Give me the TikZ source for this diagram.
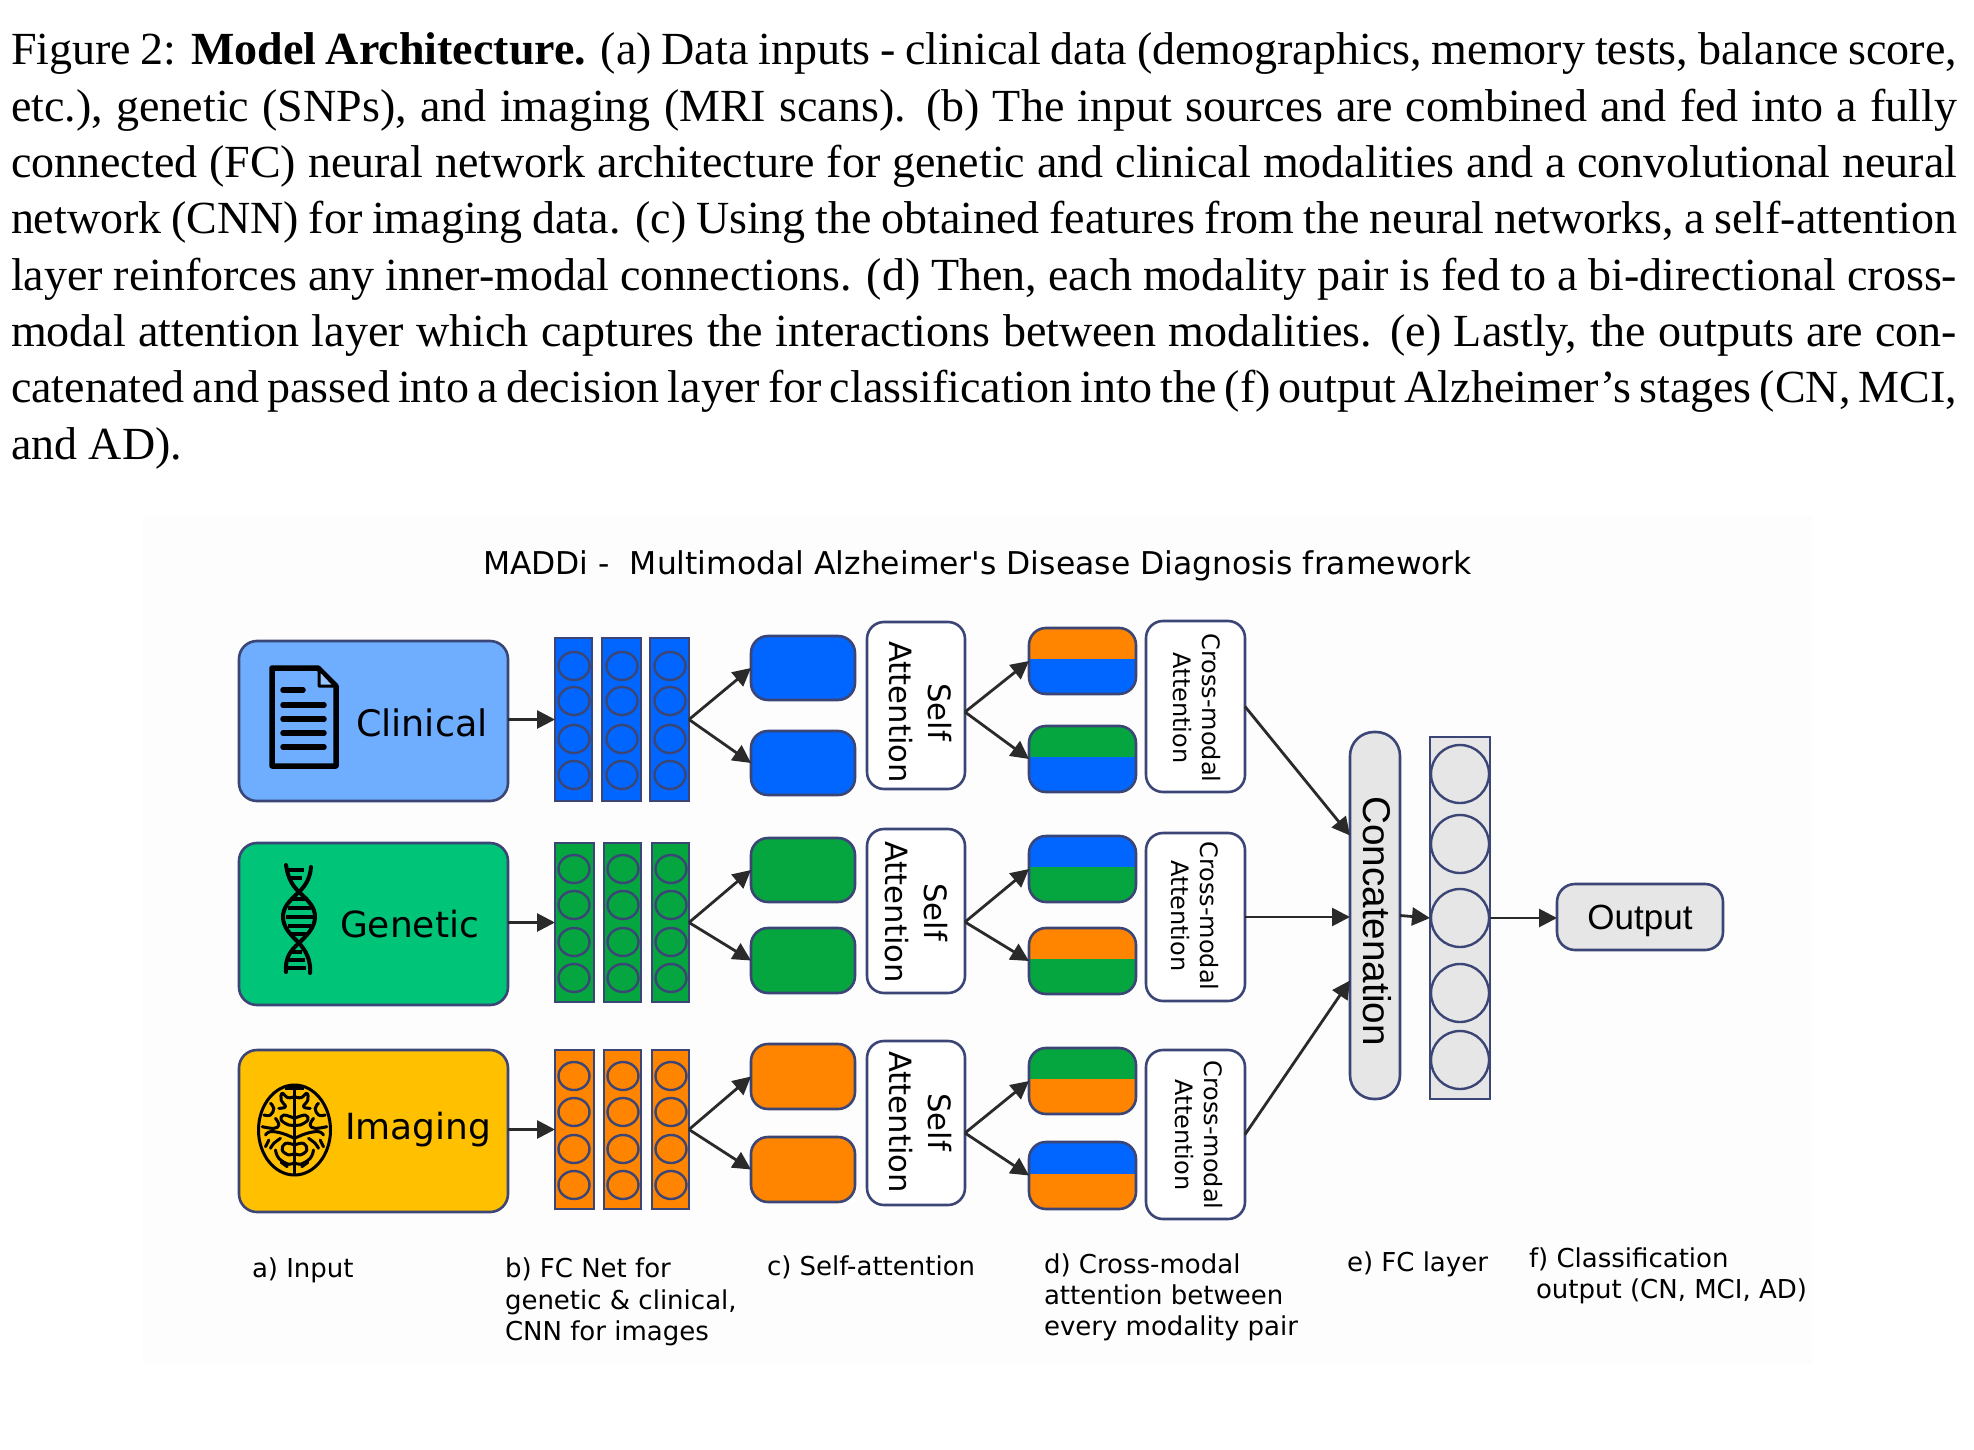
\documentclass[tikz,border=0pt]{standalone}
\usepackage{fontspec}
\setmainfont{Liberation Serif}
\newfontfamily\dvfont{DejaVu Sans}
\newfontfamily\arfont{Liberation Sans}
\usetikzlibrary{arrows.meta}
\definecolor{boxline}{HTML}{3B4676}
\definecolor{conncol}{HTML}{2A2A2A}
\definecolor{clinfill}{HTML}{6FAEFF}
\definecolor{genfill}{HTML}{00C478}
\definecolor{imgfill}{HTML}{FFC000}
\definecolor{bluefill}{HTML}{0066FF}
\definecolor{greenfill}{HTML}{05A63F}
\definecolor{orangefill}{HTML}{FF8400}
\definecolor{greyfill}{HTML}{E6E6E6}
\definecolor{panel}{HTML}{FDFDFD}
\tikzset{
  box/.style={draw=boxline,line width=2.6pt,inner sep=0pt,outer sep=0pt},
  inputbox/.style={box,rounded corners=18pt},
  stackbar/.style={box,line width=2pt},
  feat/.style={box,rounded corners=17pt},
  whitebox/.style={box,rounded corners=17pt,fill=white},
  greybox/.style={box,fill=greyfill},
  splitbox/.style n args={2}{box,rounded corners=17pt,fill=#2,path picture={
     \fill[#1,sharp corners] (path picture bounding box.north west) rectangle ([yshift=2pt]path picture bounding box.east);}},
  conn/.style={draw=conncol,line width=2.8pt,-{Triangle[length=18pt,width=18pt,fill=conncol]}},
  neuron/.style={draw=boxline,line width=2.4pt},
  tx/.style={inner sep=0pt,outer sep=0pt,anchor=base west,text=black},
  label/.style={tx,align=left,font=\dvfont\fontsize{26}{31}\selectfont},
  rotself/.style={inner sep=0pt,rotate=-90,align=center,font=\dvfont\fontsize{30.7}{39}\selectfont},
  rotcross/.style={inner sep=0pt,rotate=-90,align=center,font=\dvfont\fontsize{24}{29}\selectfont},
  icon/.style={line width=3pt,line cap=round,line join=round,black}
}
% name, style, x1, y1, x2, y2, text
\newcommand{\bx}[7]{\node[#2,minimum width={(#5-#3)*1pt},minimum height={(#6-#4)*1pt}] (#1) at ({(#3+#5)/2},{(#4+#6)/2}) {#7};}
% stack: name, fill, x1, x2, y1, y2, circle x, list of circle y
\newcommand{\stackbar}[8]{\bx{#1}{stackbar,fill=#2}{#3}{#5}{#4}{#6}{}
  \foreach \cy in {#8} {\draw[neuron] (#7,\cy) ellipse [x radius=15.5,y radius=14];}}
\newcommand{\squig}[1]{\draw[icon] plot[smooth,tension=.7] coordinates {#1};}
\newcommand{\brainhalf}{%
   \squig{(0,-100)(-20,-97)(-37,-110)(-40,-90)(-27,-70)(-47,-65)}
   \squig{(-72,-80)(-62,-65)(-72,-45)(-92,-45)}
   \squig{(0,-35)(-32,-45)(-40,-30)(-17,-15)(0,-15)}
   \squig{(-97,-10)(-62,-5)(-47,-15)(-57,-35)}
   \squig{(0,25)(-37,10)(-72,5)(-87,15)}
   \squig{(-42,25)(-62,40)(-72,55)}
   \squig{(0,45)(-27,40)(-37,60)(-17,75)(0,70)}
   \squig{(-77,30)(-87,50)}
   \squig{(-57,60)(-47,85)(-17,103)(0,97)}
   \squig{(-40,97)(-22,110)}
}
\begin{document}
\begin{tikzpicture}[x=1pt,y=-1pt]
\useasboundingbox (0,0) rectangle (1974,1450);
\fill[white] (0,0) rectangle (1974,1450);
\fill[panel] (143,515) rectangle (1812,1365);

% caption
\node[tx] (caption) at (11,459) {\vbox{\hsize=1946pt\baselineskip=56.3pt\lineskiplimit=-100pt\fontsize{46}{56.3}\selectfont
\hbox to 1946pt{Figure 2: \textbf{Model Architecture.} (a) Data inputs - clinical data (demographics, memory tests, balance score,}
\hbox to 1946pt{etc.), genetic (SNPs), and imaging (MRI scans). (b) The input sources are combined and fed into a fully}
\hbox to 1946pt{connected (FC) neural network architecture for genetic and clinical modalities and a convolutional neural}
\hbox to 1946pt{network (CNN) for imaging data. (c) Using the obtained features from the neural networks, a self-attention}
\hbox to 1946pt{layer reinforces any inner-modal connections. (d) Then, each modality pair is fed to a bi-directional cross-}
\hbox to 1946pt{modal attention layer which captures the interactions between modalities. (e) Lastly, the outputs are con-}
\hbox to 1946pt{catenated and passed into a decision layer for classification into the (f) output Alzheimer’s stages (CN, MCI,}
\hbox to 1946pt{and AD).\hfil}}};

% title
\node[tx,font=\dvfont\fontsize{31.4}{35}\selectfont] (title) at (483,574) {MADDi - \ Multimodal Alzheimer's Disease Diagnosis framework};

% inputs
\bx{in1}{inputbox,fill=clinfill}{239}{641}{508}{801}{}
\bx{in2}{inputbox,fill=genfill}{239}{843}{508}{1005}{}
\bx{in3}{inputbox,fill=imgfill}{239}{1050}{508}{1212}{}
\node[tx,font=\dvfont\fontsize{36.5}{40}\selectfont] (t1) at (356,736) {Clinical};
\node[tx,font=\dvfont\fontsize{36}{40}\selectfont] (t2) at (340,937) {Genetic};
\node[tx,font=\dvfont\fontsize{36}{40}\selectfont] (t3) at (345,1139) {Imaging};

% document icon
\draw[line width=5.5pt,line join=round,black] (272,668) -- (318,668) -- (336,686) -- (336,766) -- (272,766) -- cycle;
\draw[line width=3pt,line join=round,black,fill=clinfill!70!white] (319,669) -- (319,686) -- (335,686) -- cycle;
\draw[line width=5.5pt,line cap=round,black] (283,690) -- (303,690);
\foreach \ly in {705,719,733,747} {\draw[line width=5.5pt,line cap=round,black] (283,\ly) -- (324,\ly);}

% DNA icon
\draw[line width=4pt,line cap=round,black] (286,865) .. controls (288,880) and (294,887) .. (299,892) .. controls (310,902) and (315,908) .. (315,917) .. controls (315,928) and (306,936) .. (299,943) .. controls (290,951) and (285,958) .. (286,972);
\draw[line width=4pt,line cap=round,black] (311,867) .. controls (310,880) and (304,887) .. (299,892) .. controls (288,902) and (283,908) .. (283,917) .. controls (283,928) and (292,936) .. (299,943) .. controls (306,951) and (311,960) .. (310,973);
\foreach \rx/\rxx/\ry in {288/304/870,291/302/878,291/308/899,288/311/908,286/313/917,288/311/926,291/308/934,292/302/952,289/305/960,287/306/968} {\draw[line width=3.2pt,black] (\rx,\ry) -- (\rxx,\ry);}

% brain icon
\draw[line width=3pt,black] (294.5,1130) ellipse [x radius=36,y radius=45];
\begin{scope}[shift={(294.5pt,-1130pt)},x=.3333pt,y=-.3333pt]
  \draw[line width=3.2pt,black] (0,-133) -- (0,133);
  \draw[line width=3.2pt,black] (-28,-126) -- (28,-126);
  \brainhalf
  \begin{scope}[xscale=-1]\brainhalf\end{scope}
\end{scope}

% stacks
\stackbar{s1a}{bluefill}{555}{592}{638}{801}{574}{666,701,739,775}
\stackbar{s1b}{bluefill}{602}{641}{638}{801}{622}{666,701,739,775}
\stackbar{s1c}{bluefill}{650}{689}{638}{801}{670}{666,701,739,775}
\stackbar{s2a}{greenfill}{555}{594}{843}{1002}{574}{869,905,942,978}
\stackbar{s2b}{greenfill}{604}{641}{843}{1002}{623}{869,905,942,978}
\stackbar{s2c}{greenfill}{652}{689}{843}{1002}{671}{869,905,942,978}
\stackbar{s3a}{orangefill}{555}{594}{1050}{1209}{574}{1076,1112,1149,1185}
\stackbar{s3b}{orangefill}{604}{641}{1050}{1209}{623}{1076,1112,1149,1185}
\stackbar{s3c}{orangefill}{652}{689}{1050}{1209}{671}{1076,1112,1149,1185}

% self-attention inputs
\bx{f1a}{feat,fill=bluefill}{751}{636}{855}{700}{}
\bx{f1b}{feat,fill=bluefill}{751}{731}{855}{795}{}
\bx{f2a}{feat,fill=greenfill}{751}{838}{855}{902}{}
\bx{f2b}{feat,fill=greenfill}{751}{928}{855}{993}{}
\bx{f3a}{feat,fill=orangefill}{751}{1044}{855}{1109}{}
\bx{f3b}{feat,fill=orangefill}{751}{1137}{855}{1202}{}

% self-attention
\bx{sa1}{whitebox}{867}{622}{965}{789}{}
\bx{sa2}{whitebox}{867}{829}{965}{993}{}
\bx{sa3}{whitebox}{867}{1041}{965}{1205}{}
\node[rotself] (sat1) at (920.5,712) {Self\\Attention};
\node[rotself] (sat2) at (916.5,912) {Self\\Attention};
\node[rotself] (sat3) at (920,1122) {Self\\Attention};

% cross-modal pairs
\bx{c1a}{splitbox={orangefill}{bluefill}}{1029}{628}{1136}{694}{}
\bx{c1b}{splitbox={greenfill}{bluefill}}{1029}{726}{1136}{792}{}
\bx{c2a}{splitbox={bluefill}{greenfill}}{1029}{836}{1136}{902}{}
\bx{c2b}{splitbox={orangefill}{greenfill}}{1029}{928}{1136}{994}{}
\bx{c3a}{splitbox={greenfill}{orangefill}}{1029}{1048}{1136}{1114}{}
\bx{c3b}{splitbox={bluefill}{orangefill}}{1029}{1142}{1136}{1209}{}

% cross-modal attention
\bx{cm1}{whitebox}{1146}{621}{1245}{792}{}
\bx{cm2}{whitebox}{1146}{833}{1245}{1001}{}
\bx{cm3}{whitebox}{1146}{1050}{1245}{1219}{}
\node[rotcross] (cmt1) at (1197,708) {Cross-modal\\Attention};
\node[rotcross] (cmt2) at (1194.5,916) {Cross-modal\\Attention};
\node[rotcross] (cmt3) at (1198.5,1135) {Cross-modal\\Attention};

% concatenation, FC, output
\bx{concat}{greybox,rounded corners=24pt}{1350}{732}{1400}{1099}{}
\node[inner sep=0pt,rotate=-90,font=\arfont\fontsize{38.7}{40}\selectfont] (concatt) at (1377,921) {Concatenation};
\bx{fc}{greybox}{1430}{737}{1490}{1099}{}
\foreach \cy in {774,844,918,993,1060} {\draw[neuron] (1460,\cy) circle [radius=29];}
\bx{out}{greybox,rounded corners=18pt}{1557}{884}{1723}{950}{}
\node[inner sep=0pt,font=\arfont\fontsize{35}{40}\selectfont] (outt) at (1640,921) {Output};

% connectors
\foreach \r in {1,2,3} {
  \draw[conn] (in\r.east |- s\r a.west) -- (s\r a.west);
  \draw[conn] (s\r c.east) -- (f\r a.west);
  \draw[conn] (s\r c.east) -- (f\r b.west);
}
\coordinate (j1) at ([yshift=-6.5pt]sa1.east);
\coordinate (j2) at ([yshift=-11pt]sa2.east);
\coordinate (j3) at ([yshift=-10pt]sa3.east);
\foreach \r in {1,2,3} {
  \draw[conn] (j\r) -- (c\r a.west);
  \draw[conn] (j\r) -- (c\r b.west);
}
\coordinate (e1) at ([yshift=80pt]concat.west);
\coordinate (e3) at ([yshift=-65pt]concat.west);
\draw[conn] (cm1.east) -- (e1);
\draw[conn] (cm2.east) -- (concat.west |- cm2.east);
\draw[conn] (cm3.east) -- (e3);
\draw[conn] (concat.east) -- (fc.west);
\draw[conn] (fc.east) -- (out.west |- fc.east);

% labels
\node[label] (la) at (252,1277) {a) Input};
\node[label] (lb1) at (505,1277) {b) FC Net for};
\node[label] (lb2) at (505,1309) {genetic \& clinical,};
\node[label] (lb3) at (505,1340) {CNN for images};
\node[label] (lc) at (767,1275) {c) Self-attention};
\node[label] (ld1) at (1044,1273) {d) Cross-modal};
\node[label] (ld2) at (1044,1304) {attention between};
\node[label] (ld3) at (1044,1335) {every modality pair};
\node[label] (le) at (1347,1271) {e) FC layer};
\node[label] (lf1) at (1529,1267) {f) Classification};
\node[label] (lf2) at (1536,1298) {output (CN, MCI, AD)};
\end{tikzpicture}
\end{document}
